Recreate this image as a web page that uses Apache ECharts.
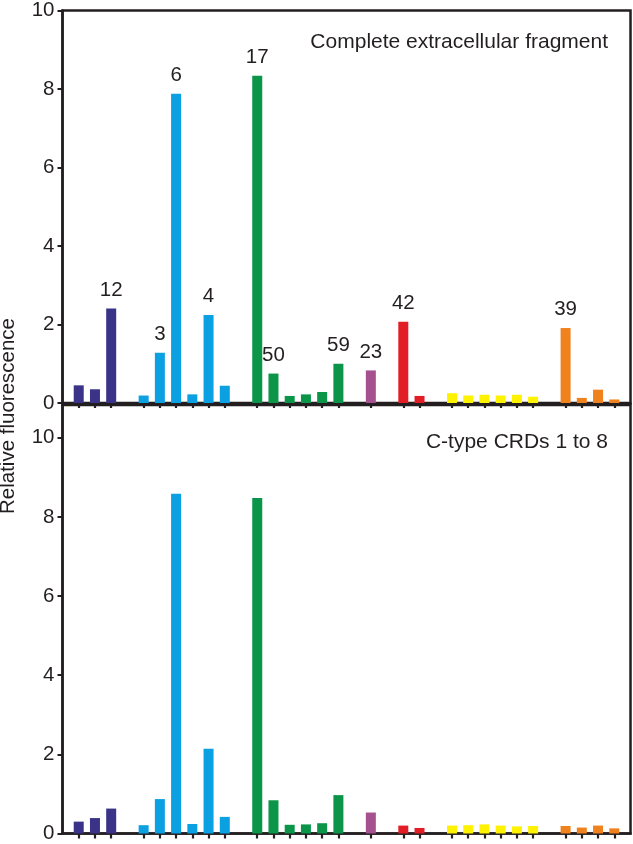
<!DOCTYPE html>
<html>
<head>
<meta charset="utf-8">
<script src="https://cdn.jsdelivr.net/npm/echarts@6/dist/echarts.min.js"></script>
<style>
html,body{margin:0;padding:0;background:#fff;}
#chart{width:633px;height:844px;}
</style>
</head>
<body>
<div id="chart"></div>
<script>
// slot categories (blank slots separate the colour groups)
const categories = ['a1','a2','a3','', 'b1','b2','b3','b4','b5','b6','', 'c1','c2','c3','c4','c5','c6','', 'd1','', 'e1','e2','', 'f1','f2','f3','f4','f5','f6','', 'g1','g2','g3','g4'];
// colour group of each slot (-1 = blank)
const slotGroup = [0,0,0,-1, 1,1,1,1,1,1,-1, 2,2,2,2,2,2,-1, 3,-1, 4,4,-1, 5,5,5,5,5,5,-1, 6,6,6,6];
const groupColors = ['#3a3387','#0ba0e2','#0a9548','#a6518f','#e31d25','#fff200','#f0821e'];

const topValues = [0.45,0.35,2.41,null, 0.19,1.28,7.88,0.22,2.24,0.44,null, 8.34,0.75,0.18,0.22,0.28,1.00,null, 0.83,null, 2.07,0.18,null, 0.25,0.19,0.21,0.19,0.21,0.16,null, 1.91,0.13,0.34,0.09];
const topLabels = ['','','12','', '','3','6','','4','','', '17','50','','','','59','', '23','', '42','','', '','','','','','','', '39','','',''];
const bottomValues = [0.30,0.39,0.63,null, 0.21,0.87,8.59,0.24,2.14,0.42,null, 8.48,0.84,0.22,0.23,0.26,0.97,null, 0.53,null, 0.20,0.14,null, 0.20,0.21,0.23,0.20,0.18,0.19,null, 0.19,0.15,0.20,0.13];

const topTitle = 'Complete extracellular fragment';
const bottomTitle = 'C-type CRDs 1 to 8';
const yAxisTitle = 'Relative fluorescence';
const yTicksTop = {min:0, max:10, interval:2};
const yTicksBottom = {min:0, max:10.83, interval:2};

const FONT = 'Liberation Sans, Arial, Helvetica, sans-serif';
const INK = '#231f20';
const FS = 20.5;

// padded categories: one blank before and after
const cats = [' '].concat(categories).concat(['  ']);
function pad(arr){ return [null].concat(arr).concat([null]); }
function barData(vals){
  return pad(vals).map(function(v,i){
    if (v === null) return null;
    const g = slotGroup[i-1];
    return {value:v, itemStyle:{color:groupColors[g]}};
  });
}
const labelsPadded = pad(topLabels);

function tickShow(idx){ return idx>0 && idx<=slotGroup.length && slotGroup[idx-1] >= 0; }

function xAxis(gridIndex){
  return {
    type:'category', gridIndex:gridIndex, data:cats, boundaryGap:false,
    axisLine:{lineStyle:{color:INK,width:2.5}},
    axisTick:{show:true, interval:function(i){return tickShow(i);}, length:5, lineStyle:{color:INK,width:2.2}},
    axisLabel:{show:false},
    splitLine:{show:false}
  };
}
function yAxis(gridIndex, t){
  return {
    type:'value', gridIndex:gridIndex, min:t.min, max:t.max, interval:t.interval,
    axisLine:{show:true, lineStyle:{color:INK,width:2.5}},
    axisTick:{show:true, length:5, lineStyle:{color:INK,width:2}},
    axisLabel:{show:true, color:INK, fontFamily:FONT, fontSize:FS, margin:8, showMaxLabel: t.max % t.interval === 0,
      formatter:function(v){ return (Math.abs(v % t.interval) < 1e-9) ? String(v) : ''; }},
    splitLine:{show:false}
  };
}

const chart = echarts.init(document.getElementById('chart'), null, {renderer:'canvas'});
chart.setOption({
  animation:false,
  backgroundColor:'#ffffff',
  textStyle:{fontFamily:FONT},
  title:[
    {text:topTitle, right:25, top:32, padding:0, textStyle:{fontFamily:FONT, fontSize:21, fontWeight:'normal', color:INK}},
    {text:bottomTitle, right:25, top:432, padding:0, textStyle:{fontFamily:FONT, fontSize:21, fontWeight:'normal', color:INK}}
  ],
  grid:[
    {left:62.5, right:2.5, top:7, height:396, show:true, borderColor:INK, borderWidth:2.5},
    {left:62.5, right:2.5, top:405, height:430, show:true, borderColor:INK, borderWidth:2.5}
  ],
  xAxis:[xAxis(0), xAxis(1)],
  yAxis:[yAxis(0, yTicksTop), yAxis(1, yTicksBottom)],
  graphic:[{
    type:'text', x:8, y:416, rotation:Math.PI/2,
    style:{text:yAxisTitle, fill:INK, font:'normal ' + FS + 'px ' + FONT, align:'center', verticalAlign:'middle'}
  }],
  series:[
    {type:'bar', xAxisIndex:0, yAxisIndex:0, barWidth:10, data:barData(topValues),
      label:{show:true, position:'top', distance:8, color:INK, fontFamily:FONT, fontSize:FS,
        formatter:function(p){ return labelsPadded[p.dataIndex] || ''; }}},
    {type:'bar', xAxisIndex:1, yAxisIndex:1, barWidth:10, data:barData(bottomValues)}
  ]
});
</script>
</body>
</html>
